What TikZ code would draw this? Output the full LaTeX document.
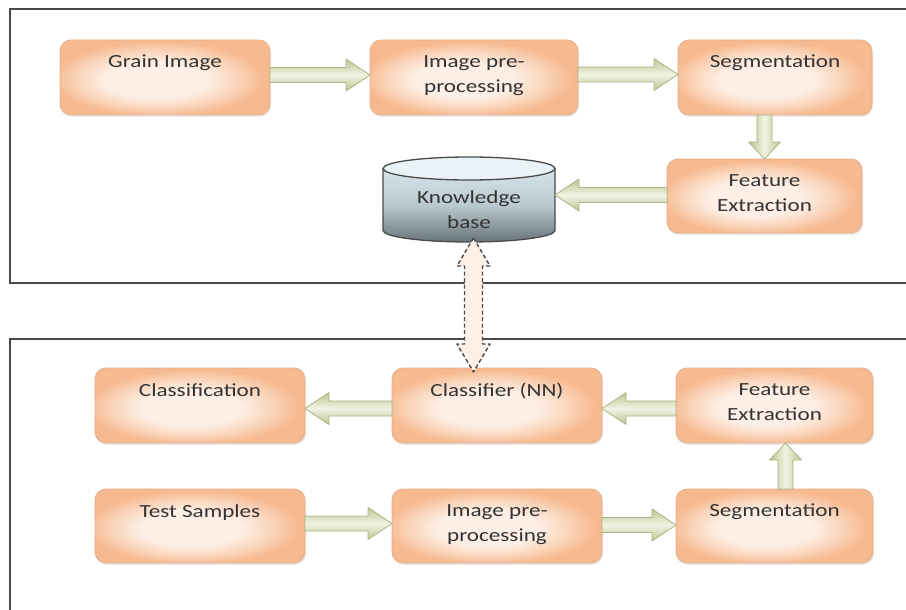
\documentclass[tikz,border=0pt]{standalone}
\usepackage{fontspec}
\setmainfont{Carlito}[FakeStretch=1.25]
\usetikzlibrary{calc,shadows}

\definecolor{peachD}{HTML}{F7BA90}
\definecolor{peachM}{HTML}{FAD5BB}
\definecolor{peachL}{HTML}{FDEFE5}
\definecolor{peachB}{HTML}{E2B08C}
\definecolor{txt}{HTML}{333333}
\definecolor{frame}{HTML}{4A4A4A}
\definecolor{agD}{HTML}{BAC591}
\definecolor{agL}{HTML}{F1F3E4}
\definecolor{agB}{HTML}{A8B580}
\definecolor{cylTop}{HTML}{D6E5EB}
\definecolor{cylMid}{HTML}{BAC9CF}
\definecolor{cylBot}{HTML}{68757B}
\definecolor{cylCap}{HTML}{E9F3F7}
\definecolor{dblFill}{HTML}{FDF0E7}

% peach gradient of the process boxes: light centre, warmer rim
\pgfdeclareradialshading{peachshade}{\pgfpoint{-3bp}{-2bp}}{%
  color(0bp)=(peachL); color(12bp)=(peachL); color(19bp)=(peachM);
  color(25bp)=(peachD); color(50bp)=(peachD)}

% half widths of the block arrows
\newcommand\shaftw{7.5pt}
\newcommand\headw{16pt}

% block arrow from #2 to #3 with head length #4
\newcommand\barrow[4][]{%
  \path (#2) coordinate (ba-s) (#3) coordinate (ba-e);
  \path ($(ba-e)!#4!(ba-s)$) coordinate (ba-h);
  \draw[blockarrow,#1]
    ($(ba-s)!\shaftw!90:(ba-e)$) -- ($(ba-h)!\shaftw!90:(ba-e)$)
    -- ($(ba-h)!\headw!90:(ba-e)$) -- (ba-e)
    -- ($(ba-h)!\headw!-90:(ba-e)$) -- ($(ba-h)!\shaftw!-90:(ba-e)$)
    -- ($(ba-s)!\shaftw!-90:(ba-e)$) -- cycle;
}

% dashed two-headed arrow between #1 and #2
\newcommand\dblarrow[2]{%
  \path (#1) coordinate (da-s) (#2) coordinate (da-e);
  \path ($(da-s)!28pt!(da-e)$) coordinate (da-hs)
        ($(da-e)!28pt!(da-s)$) coordinate (da-he);
  \draw[dblstyle]
    (da-s) -- ($(da-hs)!16.5pt!90:(da-e)$) -- ($(da-hs)!9pt!90:(da-e)$)
    -- ($(da-he)!9pt!-90:(da-s)$) -- ($(da-he)!16.5pt!-90:(da-s)$)
    -- (da-e)
    -- ($(da-he)!16.5pt!90:(da-s)$) -- ($(da-he)!9pt!90:(da-s)$)
    -- ($(da-hs)!9pt!-90:(da-e)$) -- ($(da-hs)!16.5pt!-90:(da-e)$)
    -- cycle;
}

\begin{document}
\begin{tikzpicture}[x=1pt,y=-1pt,
  label distance=0pt,
  procbox/.style={rectangle, rounded corners=11pt, draw=peachB, line width=0.8pt,
    shading=peachshade,
    inner sep=0pt, outer sep=0pt,
    drop shadow={opacity=0.16, shadow xshift=1pt, shadow yshift=-2pt}},
  lbl/.style={anchor=north, yshift=-15pt, inner sep=0pt, align=center,
    font=\fontsize{18.5pt}{25pt}\selectfont, text=txt},
  blockarrow/.style={draw=agB, line width=0.7pt, line join=round},
  hshade/.style={top color=agD, bottom color=agD, middle color=agL},
  vshade/.style={left color=agD, right color=agD, middle color=agL},
  dblstyle/.style={draw=frame, line width=1.4pt, dash pattern=on 4pt off 2.5pt,
    fill=dblFill, line join=round},
  framel/.style={draw=frame, line width=1.8pt},
  cylline/.style={draw=frame, line width=1.3pt}
]
\useasboundingbox (0,0) rectangle (906,610);
\fill[white] (0,0) rectangle (906,610);

% the two panels (open to the right and at the foot)
\draw[framel] (906,9) -- (10,9) -- (10,283) -- (906,283);
\draw[framel] (906,339) -- (10,339) -- (10,610);

% training chain
\node[procbox, minimum width=210pt, minimum height=75pt,
  label={[lbl]north:{Grain Image}}] (gi) at (165,77.5) {};
\node[procbox, minimum width=208pt, minimum height=75pt,
  label={[lbl]north:{Image pre-\\processing}}] (ip) at (474,77.5) {};
\node[procbox, minimum width=194pt, minimum height=75pt,
  label={[lbl]north:{Segmentation}}] (sg) at (775,77.5) {};
\node[procbox, minimum width=195pt, minimum height=74pt,
  label={[lbl]north:{Feature\\Extraction}}] (fe) at (764.5,196) {};

% knowledge base drawn as a cylinder
\node[minimum width=172pt, minimum height=85pt, inner sep=0pt, outer sep=0pt]
  (kb) at (469,199.5) {};
\path[top color=cylTop, bottom color=cylBot, middle color=cylMid]
  ($(kb.north west)+(0,11.5)$) -- ($(kb.south west)+(0,-11.5)$)
  arc[start angle=180, end angle=360, x radius=86pt, y radius=11.5pt]
  -- ($(kb.north east)+(0,11.5)$) -- cycle;
\draw[cylline]
  ($(kb.north west)+(0,11.5)$) -- ($(kb.south west)+(0,-11.5)$)
  arc[start angle=180, end angle=360, x radius=86pt, y radius=11.5pt]
  -- ($(kb.north east)+(0,11.5)$);
\draw[cylline, fill=cylCap]
  ($(kb.north)+(0,11.5)$) ellipse[x radius=86pt, y radius=11.5pt];
\node[lbl] (kbt) at ($(kb.north)+(0,18)$) {Knowledge\\base};

% testing chain
\node[procbox, minimum width=210pt, minimum height=75pt,
  label={[lbl]north:{Classification}}] (cl) at (200,405.5) {};
\node[procbox, minimum width=210pt, minimum height=75pt,
  label={[lbl]north:{Classifier (NN)}}] (nn) at (497,405.5) {};
\node[procbox, minimum width=197pt, minimum height=75pt,
  label={[lbl]north:{Feature\\Extraction}}] (fe2) at (774.5,405.5) {};
\node[procbox, minimum width=210pt, minimum height=74pt,
  label={[lbl]north:{Test Samples}}] (ts) at (200,526) {};
\node[procbox, minimum width=210pt, minimum height=74pt,
  label={[lbl]north:{Image pre-\\processing}}] (ip2) at (497,526) {};
\node[procbox, minimum width=197pt, minimum height=74pt,
  label={[lbl]north:{Segmentation}}] (sg2) at (774.5,526) {};

% connectors, training
\barrow[hshade]{$(gi.east)+(0,-2.5)$}{$(ip.west)+(0,-2.5)$}{24pt}
\barrow[hshade]{$(ip.east)+(0,-3)$}{$(sg.west)+(0,-3)$}{24pt}
\barrow[vshade]{sg.south -| fe.north}{fe.north}{17pt}
\barrow[hshade]{$(fe.west)+(0,-1)$}{$(kb.east |- fe.west)+(0,-1)$}{24pt}

% connectors, testing
\barrow[hshade]{$(nn.west)+(0,3)$}{$(cl.east)+(0,3)$}{24pt}
\barrow[hshade]{$(fe2.west)+(0,3)$}{$(nn.east)+(0,3)$}{24pt}
\barrow[hshade]{$(ts.east)+(0,-2.5)$}{$(ip2.west)+(0,-2.5)$}{24pt}
\barrow[hshade]{$(ip2.east)+(0,-1)$}{$(sg2.west)+(0,-1)$}{24pt}
\barrow[vshade]{$(sg2.north)+(11,0)$}{$(fe2.south)+(11,0)$}{17pt}

% link between the knowledge base and the classifier
\dblarrow{$(kb.south)+(4.5,-4)$}{$(kb.south |- nn.north)+(4.5,4)$}
\end{tikzpicture}
\end{document}
